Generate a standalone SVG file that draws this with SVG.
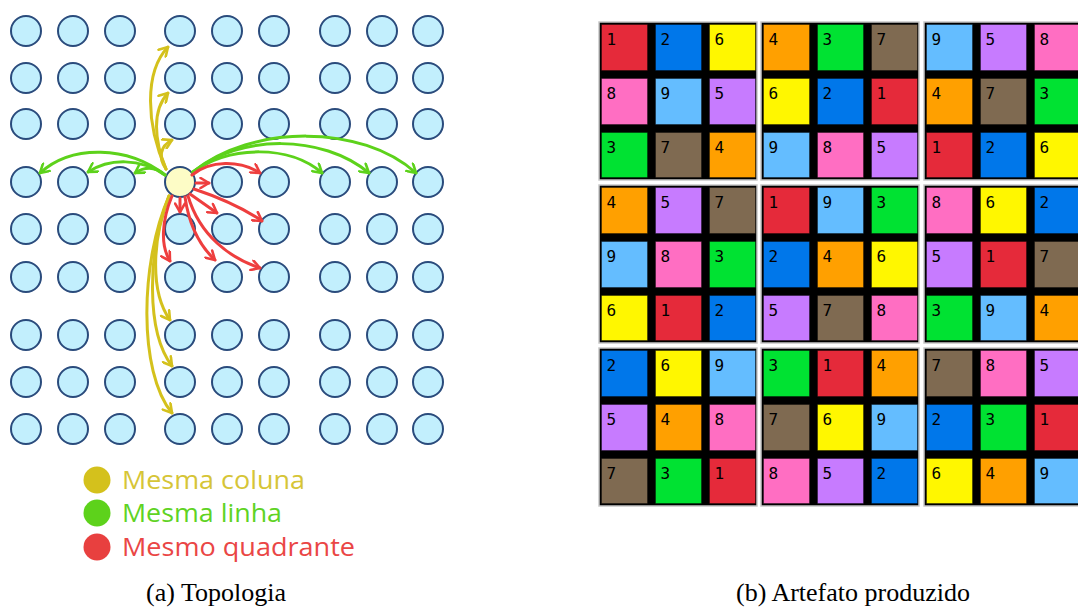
<svg xmlns="http://www.w3.org/2000/svg" width="1078" height="608" viewBox="0 0 1078 608">
  <style>
    .node circle { fill: #c2effd; stroke: #2a4b7c; stroke-width: 2; }
    .node.src circle { fill: #fdfcc6; }
    .wire { fill: none; stroke-width: 3; stroke-linecap: round; }
    .col { stroke: #d4c11c; marker-end: url(#ah-y); }
    .row { stroke: #5dd21b; marker-end: url(#ah-g); }
    .quad { stroke: #ee3e3e; marker-end: url(#ah-r); }
    .legend text { font-family: "Open Sans", "DejaVu Sans", sans-serif; font-size: 25px; }
    .caption { font-family: "Liberation Serif", "DejaVu Serif", serif; font-size: 26px; fill: #000; text-anchor: middle; }
    .block { fill: #000; stroke: #c8c8c8; stroke-width: 1.5; }
    .cell rect { stroke: rgba(0,0,0,0.35); stroke-width: 1; }
    .cell text { font-family: "DejaVu Sans Mono", "Liberation Mono", monospace; font-size: 16px; fill: #000; }
    .k1 rect { fill: #e52a3a; } .k2 rect { fill: #0077ea; } .k3 rect { fill: #00e232; }
    .k4 rect { fill: #ffa000; } .k5 rect { fill: #c77bff; } .k6 rect { fill: #fff700; }
    .k7 rect { fill: #7f6a51; } .k8 rect { fill: #ff6ec2; } .k9 rect { fill: #64bdff; }
  </style>
  <defs>
    <marker id="ah-y" viewBox="0 0 12 12" refX="10.5" refY="6" markerWidth="12" markerHeight="12" markerUnits="userSpaceOnUse" orient="auto">
      <path d="M2,1 L10.5,6 L2,11" fill="none" stroke="#d4c11c" stroke-width="2.6" stroke-linecap="round" stroke-linejoin="round"/>
    </marker>
    <marker id="ah-g" viewBox="0 0 12 12" refX="10.5" refY="6" markerWidth="12" markerHeight="12" markerUnits="userSpaceOnUse" orient="auto">
      <path d="M2,1 L10.5,6 L2,11" fill="none" stroke="#5dd21b" stroke-width="2.6" stroke-linecap="round" stroke-linejoin="round"/>
    </marker>
    <marker id="ah-r" viewBox="0 0 12 12" refX="10.5" refY="6" markerWidth="12" markerHeight="12" markerUnits="userSpaceOnUse" orient="auto">
      <path d="M2,1 L10.5,6 L2,11" fill="none" stroke="#ee3e3e" stroke-width="2.6" stroke-linecap="round" stroke-linejoin="round"/>
    </marker>
  </defs>

  <rect width="1078" height="608" fill="#fff"/>

  <!-- topology: 9x9 processes -->
  <g id="topology">
    <g id="n-1-1" class="node"><circle cx="26" cy="31" r="15"/></g>
    <g id="n-1-2" class="node"><circle cx="73" cy="31" r="15"/></g>
    <g id="n-1-3" class="node"><circle cx="120" cy="31" r="15"/></g>
    <g id="n-1-4" class="node"><circle cx="180" cy="31" r="15"/></g>
    <g id="n-1-5" class="node"><circle cx="227" cy="31" r="15"/></g>
    <g id="n-1-6" class="node"><circle cx="274" cy="31" r="15"/></g>
    <g id="n-1-7" class="node"><circle cx="335" cy="31" r="15"/></g>
    <g id="n-1-8" class="node"><circle cx="382" cy="31" r="15"/></g>
    <g id="n-1-9" class="node"><circle cx="428" cy="31" r="15"/></g>

    <g id="n-2-1" class="node"><circle cx="26" cy="78" r="15"/></g>
    <g id="n-2-2" class="node"><circle cx="73" cy="78" r="15"/></g>
    <g id="n-2-3" class="node"><circle cx="120" cy="78" r="15"/></g>
    <g id="n-2-4" class="node"><circle cx="180" cy="78" r="15"/></g>
    <g id="n-2-5" class="node"><circle cx="227" cy="78" r="15"/></g>
    <g id="n-2-6" class="node"><circle cx="274" cy="78" r="15"/></g>
    <g id="n-2-7" class="node"><circle cx="335" cy="78" r="15"/></g>
    <g id="n-2-8" class="node"><circle cx="382" cy="78" r="15"/></g>
    <g id="n-2-9" class="node"><circle cx="428" cy="78" r="15"/></g>

    <g id="n-3-1" class="node"><circle cx="26" cy="124" r="15"/></g>
    <g id="n-3-2" class="node"><circle cx="73" cy="124" r="15"/></g>
    <g id="n-3-3" class="node"><circle cx="120" cy="124" r="15"/></g>
    <g id="n-3-4" class="node"><circle cx="180" cy="124" r="15"/></g>
    <g id="n-3-5" class="node"><circle cx="227" cy="124" r="15"/></g>
    <g id="n-3-6" class="node"><circle cx="274" cy="124" r="15"/></g>
    <g id="n-3-7" class="node"><circle cx="335" cy="124" r="15"/></g>
    <g id="n-3-8" class="node"><circle cx="382" cy="124" r="15"/></g>
    <g id="n-3-9" class="node"><circle cx="428" cy="124" r="15"/></g>

    <g id="n-4-1" class="node"><circle cx="26" cy="182" r="15"/></g>
    <g id="n-4-2" class="node"><circle cx="73" cy="182" r="15"/></g>
    <g id="n-4-3" class="node"><circle cx="120" cy="182" r="15"/></g>
    <g id="n-4-4" class="node src"><circle cx="180" cy="182" r="15"/></g>
    <g id="n-4-5" class="node"><circle cx="227" cy="182" r="15"/></g>
    <g id="n-4-6" class="node"><circle cx="274" cy="182" r="15"/></g>
    <g id="n-4-7" class="node"><circle cx="335" cy="182" r="15"/></g>
    <g id="n-4-8" class="node"><circle cx="382" cy="182" r="15"/></g>
    <g id="n-4-9" class="node"><circle cx="428" cy="182" r="15"/></g>

    <g id="n-5-1" class="node"><circle cx="26" cy="229" r="15"/></g>
    <g id="n-5-2" class="node"><circle cx="73" cy="229" r="15"/></g>
    <g id="n-5-3" class="node"><circle cx="120" cy="229" r="15"/></g>
    <g id="n-5-4" class="node"><circle cx="180" cy="229" r="15"/></g>
    <g id="n-5-5" class="node"><circle cx="227" cy="229" r="15"/></g>
    <g id="n-5-6" class="node"><circle cx="274" cy="229" r="15"/></g>
    <g id="n-5-7" class="node"><circle cx="335" cy="229" r="15"/></g>
    <g id="n-5-8" class="node"><circle cx="382" cy="229" r="15"/></g>
    <g id="n-5-9" class="node"><circle cx="428" cy="229" r="15"/></g>

    <g id="n-6-1" class="node"><circle cx="26" cy="277" r="15"/></g>
    <g id="n-6-2" class="node"><circle cx="73" cy="277" r="15"/></g>
    <g id="n-6-3" class="node"><circle cx="120" cy="277" r="15"/></g>
    <g id="n-6-4" class="node"><circle cx="180" cy="277" r="15"/></g>
    <g id="n-6-5" class="node"><circle cx="227" cy="277" r="15"/></g>
    <g id="n-6-6" class="node"><circle cx="274" cy="277" r="15"/></g>
    <g id="n-6-7" class="node"><circle cx="335" cy="277" r="15"/></g>
    <g id="n-6-8" class="node"><circle cx="382" cy="277" r="15"/></g>
    <g id="n-6-9" class="node"><circle cx="428" cy="277" r="15"/></g>

    <g id="n-7-1" class="node"><circle cx="26" cy="335" r="15"/></g>
    <g id="n-7-2" class="node"><circle cx="73" cy="335" r="15"/></g>
    <g id="n-7-3" class="node"><circle cx="120" cy="335" r="15"/></g>
    <g id="n-7-4" class="node"><circle cx="180" cy="335" r="15"/></g>
    <g id="n-7-5" class="node"><circle cx="227" cy="335" r="15"/></g>
    <g id="n-7-6" class="node"><circle cx="274" cy="335" r="15"/></g>
    <g id="n-7-7" class="node"><circle cx="335" cy="335" r="15"/></g>
    <g id="n-7-8" class="node"><circle cx="382" cy="335" r="15"/></g>
    <g id="n-7-9" class="node"><circle cx="428" cy="335" r="15"/></g>

    <g id="n-8-1" class="node"><circle cx="26" cy="382" r="15"/></g>
    <g id="n-8-2" class="node"><circle cx="73" cy="382" r="15"/></g>
    <g id="n-8-3" class="node"><circle cx="120" cy="382" r="15"/></g>
    <g id="n-8-4" class="node"><circle cx="180" cy="382" r="15"/></g>
    <g id="n-8-5" class="node"><circle cx="227" cy="382" r="15"/></g>
    <g id="n-8-6" class="node"><circle cx="274" cy="382" r="15"/></g>
    <g id="n-8-7" class="node"><circle cx="335" cy="382" r="15"/></g>
    <g id="n-8-8" class="node"><circle cx="382" cy="382" r="15"/></g>
    <g id="n-8-9" class="node"><circle cx="428" cy="382" r="15"/></g>

    <g id="n-9-1" class="node"><circle cx="26" cy="429" r="15"/></g>
    <g id="n-9-2" class="node"><circle cx="73" cy="429" r="15"/></g>
    <g id="n-9-3" class="node"><circle cx="120" cy="429" r="15"/></g>
    <g id="n-9-4" class="node"><circle cx="180" cy="429" r="15"/></g>
    <g id="n-9-5" class="node"><circle cx="227" cy="429" r="15"/></g>
    <g id="n-9-6" class="node"><circle cx="274" cy="429" r="15"/></g>
    <g id="n-9-7" class="node"><circle cx="335" cy="429" r="15"/></g>
    <g id="n-9-8" class="node"><circle cx="382" cy="429" r="15"/></g>
    <g id="n-9-9" class="node"><circle cx="428" cy="429" r="15"/></g>
  </g>

  <!-- messages sent from the highlighted process -->
  <g id="connectors">
    <!-- same column: upwards -->
    <path class="wire col" d="M166,169 C158,158 160,146 172,140"/>
    <path class="wire col" d="M166,169 C154,140 152,110 168,93"/>
    <path class="wire col" d="M166,169 C146,125 144,72 168,47"/>
    <!-- same column: downwards -->
    <path class="wire col" d="M169,196 C152,240 150,292 170,320"/>
    <path class="wire col" d="M169,196 C147,252 146,332 172,366"/>
    <path class="wire col" d="M169,196 C140,262 138,372 172,413"/>
    <!-- same row: leftwards -->
    <path class="wire row" d="M165,175 C156,167 146,166 135,173"/>
    <path class="wire row" d="M165,175 C140,158 110,158 88,172"/>
    <path class="wire row" d="M165,175 C128,146 72,144 40,173"/>
    <!-- same row: rightwards -->
    <path class="wire row" d="M193,172 C230,145 290,145 322,173"/>
    <path class="wire row" d="M193,172 C240,134 322,134 369,173"/>
    <path class="wire row" d="M193,172 C252,124 362,124 416,173"/>
    <!-- same quadrant -->
    <path class="wire quad" d="M196,183 L209,183"/>
    <path class="wire quad" d="M192,175 C210,160 240,160 260,173"/>
    <path class="wire quad" d="M180,198 L180,212"/>
    <path class="wire quad" d="M190,194 L217,213"/>
    <path class="wire quad" d="M194,189 C215,196 240,206 262,221"/>
    <path class="wire quad" d="M172,196 C162,220 160,245 170,261"/>
    <path class="wire quad" d="M185,197 C189,225 200,246 215,260"/>
    <path class="wire quad" d="M188,196 C200,236 230,258 260,268"/>
  </g>

  <!-- legend -->
  <g id="legend" class="legend">
    <g id="legend-col">
      <circle cx="97" cy="480" r="13.5" fill="#d4c11c"/>
      <text x="122" y="489" fill="#d6c537" textLength="183" lengthAdjust="spacingAndGlyphs">Mesma coluna</text>
    </g>
    <g id="legend-row">
      <circle cx="97" cy="513" r="13.5" fill="#5dd21b"/>
      <text x="122" y="522" fill="#5fd324" textLength="160" lengthAdjust="spacingAndGlyphs">Mesma linha</text>
    </g>
    <g id="legend-quad">
      <circle cx="97" cy="547" r="13.5" fill="#e8403f"/>
      <text x="122" y="556" fill="#ea4645" textLength="233" lengthAdjust="spacingAndGlyphs">Mesmo quadrante</text>
    </g>
  </g>

  <!-- resulting 9x9 arrangement -->
  <g id="artifact">
    <rect class="block" x="599" y="22" width="158" height="158"/>
    <rect class="block" x="761" y="22" width="158" height="158"/>
    <rect class="block" x="924" y="22" width="158" height="158"/>
    <rect class="block" x="599" y="185" width="158" height="158"/>
    <rect class="block" x="761" y="185" width="158" height="158"/>
    <rect class="block" x="924" y="185" width="158" height="158"/>
    <rect class="block" x="599" y="348" width="158" height="158"/>
    <rect class="block" x="761" y="348" width="158" height="158"/>
    <rect class="block" x="924" y="348" width="158" height="158"/>

    <!-- row 1 -->
    <g id="c-1-1" class="cell k1"><rect x="601.5" y="24.5" width="46" height="46"/><text x="606.5" y="44.5">1</text></g>
    <g id="c-1-2" class="cell k2"><rect x="655.5" y="24.5" width="46" height="46"/><text x="660.5" y="44.5">2</text></g>
    <g id="c-1-3" class="cell k6"><rect x="709.5" y="24.5" width="46" height="46"/><text x="714.5" y="44.5">6</text></g>
    <g id="c-1-4" class="cell k4"><rect x="763.5" y="24.5" width="46" height="46"/><text x="768.5" y="44.5">4</text></g>
    <g id="c-1-5" class="cell k3"><rect x="817.5" y="24.5" width="46" height="46"/><text x="822.5" y="44.5">3</text></g>
    <g id="c-1-6" class="cell k7"><rect x="871.5" y="24.5" width="46" height="46"/><text x="876.5" y="44.5">7</text></g>
    <g id="c-1-7" class="cell k9"><rect x="926.5" y="24.5" width="46" height="46"/><text x="931.5" y="44.5">9</text></g>
    <g id="c-1-8" class="cell k5"><rect x="980.5" y="24.5" width="46" height="46"/><text x="985.5" y="44.5">5</text></g>
    <g id="c-1-9" class="cell k8"><rect x="1034.5" y="24.5" width="46" height="46"/><text x="1039.5" y="44.5">8</text></g>
    <!-- row 2 -->
    <g id="c-2-1" class="cell k8"><rect x="601.5" y="78.5" width="46" height="46"/><text x="606.5" y="98.5">8</text></g>
    <g id="c-2-2" class="cell k9"><rect x="655.5" y="78.5" width="46" height="46"/><text x="660.5" y="98.5">9</text></g>
    <g id="c-2-3" class="cell k5"><rect x="709.5" y="78.5" width="46" height="46"/><text x="714.5" y="98.5">5</text></g>
    <g id="c-2-4" class="cell k6"><rect x="763.5" y="78.5" width="46" height="46"/><text x="768.5" y="98.5">6</text></g>
    <g id="c-2-5" class="cell k2"><rect x="817.5" y="78.5" width="46" height="46"/><text x="822.5" y="98.5">2</text></g>
    <g id="c-2-6" class="cell k1"><rect x="871.5" y="78.5" width="46" height="46"/><text x="876.5" y="98.5">1</text></g>
    <g id="c-2-7" class="cell k4"><rect x="926.5" y="78.5" width="46" height="46"/><text x="931.5" y="98.5">4</text></g>
    <g id="c-2-8" class="cell k7"><rect x="980.5" y="78.5" width="46" height="46"/><text x="985.5" y="98.5">7</text></g>
    <g id="c-2-9" class="cell k3"><rect x="1034.5" y="78.5" width="46" height="46"/><text x="1039.5" y="98.5">3</text></g>
    <!-- row 3 -->
    <g id="c-3-1" class="cell k3"><rect x="601.5" y="132.5" width="46" height="45"/><text x="606.5" y="152.5">3</text></g>
    <g id="c-3-2" class="cell k7"><rect x="655.5" y="132.5" width="46" height="45"/><text x="660.5" y="152.5">7</text></g>
    <g id="c-3-3" class="cell k4"><rect x="709.5" y="132.5" width="46" height="45"/><text x="714.5" y="152.5">4</text></g>
    <g id="c-3-4" class="cell k9"><rect x="763.5" y="132.5" width="46" height="45"/><text x="768.5" y="152.5">9</text></g>
    <g id="c-3-5" class="cell k8"><rect x="817.5" y="132.5" width="46" height="45"/><text x="822.5" y="152.5">8</text></g>
    <g id="c-3-6" class="cell k5"><rect x="871.5" y="132.5" width="46" height="45"/><text x="876.5" y="152.5">5</text></g>
    <g id="c-3-7" class="cell k1"><rect x="926.5" y="132.5" width="46" height="45"/><text x="931.5" y="152.5">1</text></g>
    <g id="c-3-8" class="cell k2"><rect x="980.5" y="132.5" width="46" height="45"/><text x="985.5" y="152.5">2</text></g>
    <g id="c-3-9" class="cell k6"><rect x="1034.5" y="132.5" width="46" height="45"/><text x="1039.5" y="152.5">6</text></g>
    <!-- row 4 -->
    <g id="c-4-1" class="cell k4"><rect x="601.5" y="187.5" width="46" height="46"/><text x="606.5" y="207.5">4</text></g>
    <g id="c-4-2" class="cell k5"><rect x="655.5" y="187.5" width="46" height="46"/><text x="660.5" y="207.5">5</text></g>
    <g id="c-4-3" class="cell k7"><rect x="709.5" y="187.5" width="46" height="46"/><text x="714.5" y="207.5">7</text></g>
    <g id="c-4-4" class="cell k1"><rect x="763.5" y="187.5" width="46" height="46"/><text x="768.5" y="207.5">1</text></g>
    <g id="c-4-5" class="cell k9"><rect x="817.5" y="187.5" width="46" height="46"/><text x="822.5" y="207.5">9</text></g>
    <g id="c-4-6" class="cell k3"><rect x="871.5" y="187.5" width="46" height="46"/><text x="876.5" y="207.5">3</text></g>
    <g id="c-4-7" class="cell k8"><rect x="926.5" y="187.5" width="46" height="46"/><text x="931.5" y="207.5">8</text></g>
    <g id="c-4-8" class="cell k6"><rect x="980.5" y="187.5" width="46" height="46"/><text x="985.5" y="207.5">6</text></g>
    <g id="c-4-9" class="cell k2"><rect x="1034.5" y="187.5" width="46" height="46"/><text x="1039.5" y="207.5">2</text></g>
    <!-- row 5 -->
    <g id="c-5-1" class="cell k9"><rect x="601.5" y="241.5" width="46" height="46"/><text x="606.5" y="261.5">9</text></g>
    <g id="c-5-2" class="cell k8"><rect x="655.5" y="241.5" width="46" height="46"/><text x="660.5" y="261.5">8</text></g>
    <g id="c-5-3" class="cell k3"><rect x="709.5" y="241.5" width="46" height="46"/><text x="714.5" y="261.5">3</text></g>
    <g id="c-5-4" class="cell k2"><rect x="763.5" y="241.5" width="46" height="46"/><text x="768.5" y="261.5">2</text></g>
    <g id="c-5-5" class="cell k4"><rect x="817.5" y="241.5" width="46" height="46"/><text x="822.5" y="261.5">4</text></g>
    <g id="c-5-6" class="cell k6"><rect x="871.5" y="241.5" width="46" height="46"/><text x="876.5" y="261.5">6</text></g>
    <g id="c-5-7" class="cell k5"><rect x="926.5" y="241.5" width="46" height="46"/><text x="931.5" y="261.5">5</text></g>
    <g id="c-5-8" class="cell k1"><rect x="980.5" y="241.5" width="46" height="46"/><text x="985.5" y="261.5">1</text></g>
    <g id="c-5-9" class="cell k7"><rect x="1034.5" y="241.5" width="46" height="46"/><text x="1039.5" y="261.5">7</text></g>
    <!-- row 6 -->
    <g id="c-6-1" class="cell k6"><rect x="601.5" y="295.5" width="46" height="45"/><text x="606.5" y="315.5">6</text></g>
    <g id="c-6-2" class="cell k1"><rect x="655.5" y="295.5" width="46" height="45"/><text x="660.5" y="315.5">1</text></g>
    <g id="c-6-3" class="cell k2"><rect x="709.5" y="295.5" width="46" height="45"/><text x="714.5" y="315.5">2</text></g>
    <g id="c-6-4" class="cell k5"><rect x="763.5" y="295.5" width="46" height="45"/><text x="768.5" y="315.5">5</text></g>
    <g id="c-6-5" class="cell k7"><rect x="817.5" y="295.5" width="46" height="45"/><text x="822.5" y="315.5">7</text></g>
    <g id="c-6-6" class="cell k8"><rect x="871.5" y="295.5" width="46" height="45"/><text x="876.5" y="315.5">8</text></g>
    <g id="c-6-7" class="cell k3"><rect x="926.5" y="295.5" width="46" height="45"/><text x="931.5" y="315.5">3</text></g>
    <g id="c-6-8" class="cell k9"><rect x="980.5" y="295.5" width="46" height="45"/><text x="985.5" y="315.5">9</text></g>
    <g id="c-6-9" class="cell k4"><rect x="1034.5" y="295.5" width="46" height="45"/><text x="1039.5" y="315.5">4</text></g>
    <!-- row 7 -->
    <g id="c-7-1" class="cell k2"><rect x="601.5" y="350.5" width="46" height="46"/><text x="606.5" y="370.5">2</text></g>
    <g id="c-7-2" class="cell k6"><rect x="655.5" y="350.5" width="46" height="46"/><text x="660.5" y="370.5">6</text></g>
    <g id="c-7-3" class="cell k9"><rect x="709.5" y="350.5" width="46" height="46"/><text x="714.5" y="370.5">9</text></g>
    <g id="c-7-4" class="cell k3"><rect x="763.5" y="350.5" width="46" height="46"/><text x="768.5" y="370.5">3</text></g>
    <g id="c-7-5" class="cell k1"><rect x="817.5" y="350.5" width="46" height="46"/><text x="822.5" y="370.5">1</text></g>
    <g id="c-7-6" class="cell k4"><rect x="871.5" y="350.5" width="46" height="46"/><text x="876.5" y="370.5">4</text></g>
    <g id="c-7-7" class="cell k7"><rect x="926.5" y="350.5" width="46" height="46"/><text x="931.5" y="370.5">7</text></g>
    <g id="c-7-8" class="cell k8"><rect x="980.5" y="350.5" width="46" height="46"/><text x="985.5" y="370.5">8</text></g>
    <g id="c-7-9" class="cell k5"><rect x="1034.5" y="350.5" width="46" height="46"/><text x="1039.5" y="370.5">5</text></g>
    <!-- row 8 -->
    <g id="c-8-1" class="cell k5"><rect x="601.5" y="404.5" width="46" height="46"/><text x="606.5" y="424.5">5</text></g>
    <g id="c-8-2" class="cell k4"><rect x="655.5" y="404.5" width="46" height="46"/><text x="660.5" y="424.5">4</text></g>
    <g id="c-8-3" class="cell k8"><rect x="709.5" y="404.5" width="46" height="46"/><text x="714.5" y="424.5">8</text></g>
    <g id="c-8-4" class="cell k7"><rect x="763.5" y="404.5" width="46" height="46"/><text x="768.5" y="424.5">7</text></g>
    <g id="c-8-5" class="cell k6"><rect x="817.5" y="404.5" width="46" height="46"/><text x="822.5" y="424.5">6</text></g>
    <g id="c-8-6" class="cell k9"><rect x="871.5" y="404.5" width="46" height="46"/><text x="876.5" y="424.5">9</text></g>
    <g id="c-8-7" class="cell k2"><rect x="926.5" y="404.5" width="46" height="46"/><text x="931.5" y="424.5">2</text></g>
    <g id="c-8-8" class="cell k3"><rect x="980.5" y="404.5" width="46" height="46"/><text x="985.5" y="424.5">3</text></g>
    <g id="c-8-9" class="cell k1"><rect x="1034.5" y="404.5" width="46" height="46"/><text x="1039.5" y="424.5">1</text></g>
    <!-- row 9 -->
    <g id="c-9-1" class="cell k7"><rect x="601.5" y="458.5" width="46" height="45"/><text x="606.5" y="478.5">7</text></g>
    <g id="c-9-2" class="cell k3"><rect x="655.5" y="458.5" width="46" height="45"/><text x="660.5" y="478.5">3</text></g>
    <g id="c-9-3" class="cell k1"><rect x="709.5" y="458.5" width="46" height="45"/><text x="714.5" y="478.5">1</text></g>
    <g id="c-9-4" class="cell k8"><rect x="763.5" y="458.5" width="46" height="45"/><text x="768.5" y="478.5">8</text></g>
    <g id="c-9-5" class="cell k5"><rect x="817.5" y="458.5" width="46" height="45"/><text x="822.5" y="478.5">5</text></g>
    <g id="c-9-6" class="cell k2"><rect x="871.5" y="458.5" width="46" height="45"/><text x="876.5" y="478.5">2</text></g>
    <g id="c-9-7" class="cell k6"><rect x="926.5" y="458.5" width="46" height="45"/><text x="931.5" y="478.5">6</text></g>
    <g id="c-9-8" class="cell k4"><rect x="980.5" y="458.5" width="46" height="45"/><text x="985.5" y="478.5">4</text></g>
    <g id="c-9-9" class="cell k9"><rect x="1034.5" y="458.5" width="46" height="45"/><text x="1039.5" y="478.5">9</text></g>
  </g>

  <!-- sub-figure captions -->
  <text class="caption" x="216" y="601">(a) Topologia</text>
  <text class="caption" x="853" y="601">(b) Artefato produzido</text>
</svg>
